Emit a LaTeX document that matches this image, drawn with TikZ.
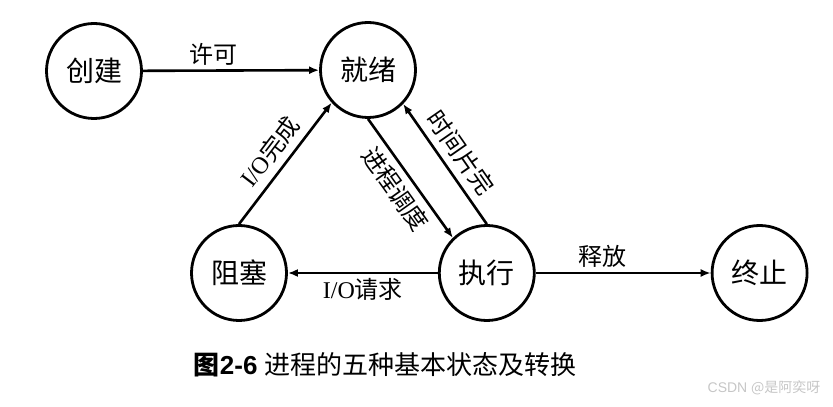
\documentclass[tikz,border=0pt]{standalone}
\usepackage{fontspec}
\setmainfont{Liberation Serif}
\newfontfamily\cjk{Noto Sans CJK SC}
\newfontfamily\arialfont{Liberation Sans}
\usetikzlibrary{positioning,arrows.meta}

\begin{document}
\begin{tikzpicture}[x=1pt, y=1pt,
		state/.style={circle, draw, line width=2.8pt, minimum size=95pt, inner sep=0pt, font=\fontsize{28}{30}\selectfont\cjk},
		trans/.style={line width=2.6pt, -{Latex[length=10pt,width=8pt]}},
		tlabel/.style={font=\fontsize{24}{26}\selectfont, inner sep=4pt}]

		\useasboundingbox (0,0) rectangle (833,407);

		% --- Zustaende ---
		\node[state] (cj) at (94,336) {创建};
		\node[state] (jx) at (368,337) {就绪};
		\node[state] (zs) at (239,134) {阻塞};
		\node[state, right=150pt of zs] (zx) {执行};
		\node[state, right=175pt of zx] (zz) {终止};

		% --- Uebergaenge ---
		\draw[trans] (cj) -- node[tlabel, pos=0.4, above]{\cjk 许可} (jx);
		\draw[trans] (zs.north) -- node[tlabel, sloped, above, inner sep=7pt]{I/O{\cjk 完成}} (jx.222);
		\draw[trans] (jx.south) -- node[tlabel, sloped, below, inner sep=6pt]{\cjk 进程调度} (zx.134);
		\draw[trans] (zx.north) -- node[tlabel, sloped, above, inner sep=7pt]{\cjk 时间片完} (jx.-44);
		\draw[trans] (zx) -- node[tlabel, below]{I/O{\cjk 请求}} (zs);
		\draw[trans] (zx) -- node[tlabel, pos=0.38, above]{\cjk 释放} (zz);

		% Beschriftung
		\node[font=\fontsize{26}{28}\selectfont] (cap) at (385,42) {{\cjk\bfseries 图}{\arialfont\bfseries 2-6} {\cjk 进程的五种基本状态及转换}};
		\node[text=gray!45, font=\fontsize{14}{16}\selectfont, anchor=east] (wm) at (824,19) {\arialfont CSDN {\cjk @是阿奕呀}};

	\end{tikzpicture}
\end{document}
